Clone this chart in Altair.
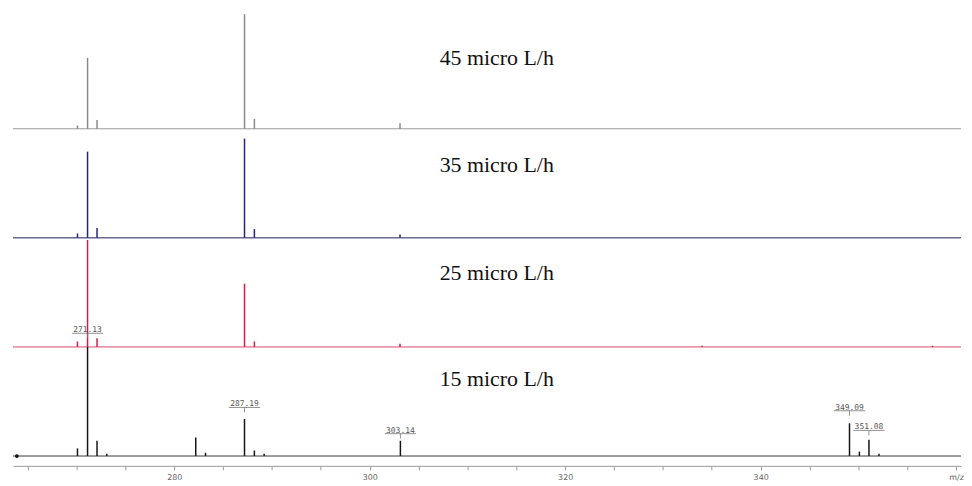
import altair as alt
import pandas as pd

# ---- data ----
panels = ["15 micro L/h", "25 micro L/h", "35 micro L/h", "45 micro L/h"]
panel_colors = ["#151515", "#d41c4c", "#24247e", "#8a8a8a"]
baseline_colors = ["#3a3a3a", "#d8486c", "#1c1c5a", "#9a9a9a"]
title_heights = [0.71, 0.68, 0.67, 0.65]

mz_15 = [270.1, 271.13, 272.1, 273.1, 282.2, 283.2, 287.19, 288.2, 289.2, 303.14, 349.09, 350.1, 351.08, 352.1]
int_15 = [0.07, 1.00, 0.14, 0.02, 0.17, 0.03, 0.34, 0.05, 0.02, 0.14, 0.30, 0.04, 0.15, 0.02]

mz_25 = [270.1, 271.13, 272.1, 287.19, 288.2, 303.1, 334.0, 357.6]
int_25 = [0.05, 0.98, 0.08, 0.58, 0.05, 0.03, 0.01, 0.01]

mz_35 = [270.1, 271.13, 272.1, 287.19, 288.2, 303.1]
int_35 = [0.04, 0.79, 0.09, 0.91, 0.08, 0.03]

mz_45 = [270.1, 271.13, 272.1, 287.19, 288.2, 303.1]
int_45 = [0.03, 0.65, 0.08, 1.05, 0.09, 0.05]

label_panel = ["25 micro L/h", "15 micro L/h", "15 micro L/h", "15 micro L/h", "15 micro L/h"]
label_mz = [271.13, 287.19, 303.14, 349.09, 351.08]
label_text = ["271.13", "287.19", "303.14", "349.09", "351.08"]
label_height = [0.18, 0.50, 0.26, 0.47, 0.29]

marker_mz = [263.9]

x_domain = [263.5, 360.5]
tick_values = list(range(265, 361, 5))

# ---- tables ----
offset = {p: i for i, p in enumerate(panels)}
rows = []
for p, mzs, ints in [(panels[0], mz_15, int_15), (panels[1], mz_25, int_25),
                     (panels[2], mz_35, int_35), (panels[3], mz_45, int_45)]:
    for m, h in zip(mzs, ints):
        rows.append({"panel": p, "mz": m, "base": offset[p], "top": offset[p] + h})
peaks_df = pd.DataFrame(rows)

panel_df = pd.DataFrame({
    "panel": panels,
    "base": [offset[p] for p in panels],
    "xmin": [x_domain[0]] * 4,
    "xmax": [x_domain[1]] * 4,
    "title_y": [offset[p] + t for p, t in zip(panels, title_heights)],
    "title_x": [313.0] * 4,
    "bcolor": baseline_colors,
})

lab_rows = []
for p, m, t, h in zip(label_panel, label_mz, label_text, label_height):
    y = offset[p] + h
    lab_rows.append({"mz": m, "text": t, "ty": y, "uy": y - 0.055,
                     "tick_end": y - 0.10, "x1": m - 1.6, "x2": m + 1.6})
labels_df = pd.DataFrame(lab_rows)

marker_df = pd.DataFrame({"mz": marker_mz, "base": [0] * len(marker_mz)})

xscale = alt.Scale(domain=x_domain, nice=False, zero=False)
yscale = alt.Scale(domain=[-0.09, 4.05], nice=False, zero=False)

xaxis = alt.Axis(
    values=tick_values,
    labelExpr="datum.value == 360 ? 'm/z' : (datum.value % 20 == 0 ? datum.label : '')",
    grid=False, domainColor="#9a9a9a", tickColor="#9a9a9a", tickSize=4,
    labelColor="#666666", labelFont="DejaVu Sans", labelFontSize=8,
    labelPadding=4, title=None, format="d",
)

color_scale = alt.Scale(domain=panels, range=panel_colors)

baselines = alt.Chart(panel_df).mark_rule(strokeWidth=1).encode(
    x=alt.X("xmin:Q", scale=xscale, axis=xaxis),
    x2="xmax:Q",
    y=alt.Y("base:Q", scale=yscale, axis=None),
    color=alt.Color("bcolor:N", scale=None),
)

peaks = alt.Chart(peaks_df).mark_rule(strokeWidth=1.5).encode(
    x=alt.X("mz:Q", scale=xscale),
    y=alt.Y("base:Q", scale=yscale),
    y2="top:Q",
    color=alt.Color("panel:N", scale=color_scale, legend=None),
)

marker = alt.Chart(marker_df).mark_point(filled=True, size=14, color="#111111", opacity=1).encode(
    x=alt.X("mz:Q", scale=xscale),
    y=alt.Y("base:Q", scale=yscale),
)

titles = alt.Chart(panel_df).mark_text(
    font="Liberation Serif", fontSize=22, color="#111111", align="center", baseline="middle"
).encode(
    x=alt.X("title_x:Q", scale=xscale),
    y=alt.Y("title_y:Q", scale=yscale),
    text="panel:N",
)

lab_text = alt.Chart(labels_df).mark_text(
    font="DejaVu Sans Mono", fontSize=8, color="#555555", align="center", baseline="bottom", dy=1
).encode(
    x=alt.X("mz:Q", scale=xscale),
    y=alt.Y("uy:Q", scale=yscale),
    text="text:N",
)

lab_under = alt.Chart(labels_df).mark_rule(strokeWidth=0.8, color="#777777").encode(
    x=alt.X("x1:Q", scale=xscale), x2="x2:Q",
    y=alt.Y("uy:Q", scale=yscale),
)

lab_tick = alt.Chart(labels_df).mark_rule(strokeWidth=0.8, color="#777777").encode(
    x=alt.X("mz:Q", scale=xscale),
    y=alt.Y("uy:Q", scale=yscale), y2="tick_end:Q",
)

chart = alt.layer(baselines, peaks, marker, titles, lab_under, lab_tick, lab_text).properties(
    width=953, height=454,
    padding={"left": 4, "top": 4, "right": 0, "bottom": 0},
    background="white",
).configure_view(stroke=None)

chart.save("out.html", embed_options={"renderer": "svg", "actions": False})
